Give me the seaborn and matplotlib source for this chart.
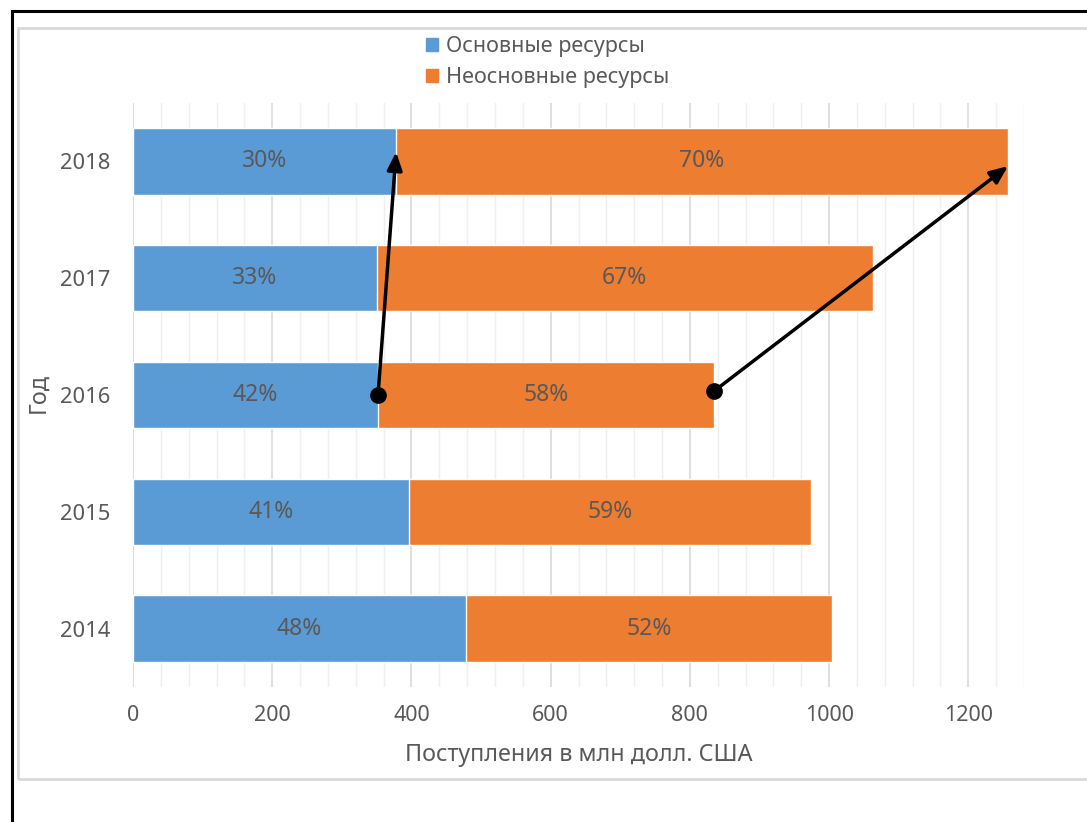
import matplotlib
matplotlib.use("Agg")
import matplotlib.pyplot as plt
from matplotlib.patches import Rectangle
from matplotlib.ticker import MultipleLocator
import seaborn as sns
import pandas as pd

years = ["2018", "2017", "2016", "2015", "2014"]
core = [378, 350, 352, 397, 478]
noncore = [879, 713, 482, 577, 526]
core_pct = ["30%", "33%", "42%", "41%", "48%"]
noncore_pct = ["70%", "67%", "58%", "59%", "52%"]
legend_labels = ["Основные ресурсы", "Неосновные ресурсы"]
x_label = "Поступления в млн долл. США"
y_label = "Год"

BLUE = "#5B9BD5"
ORANGE = "#ED7D31"
TXT = "#595959"
FS = 15.5
FS_LBL = 16.5
FS_TXT = 16.8

sns.set_theme(style="white")
plt.rcParams["font.family"] = ["Noto Sans", "DejaVu Sans"]

totals = [c + n for c, n in zip(core, noncore)]
df = pd.DataFrame({"year": years, "core": core, "total": totals})

fig = plt.figure(figsize=(10.87, 8.22), dpi=100)
W, H = 1087, 822
ax = fig.add_axes([133 / W, 1 - 687 / H, (1024 - 133) / W, (687 - 103) / H])

sns.barplot(data=df, y="year", x="total", order=years, color=ORANGE,
            width=0.57, saturation=1, ax=ax, label=legend_labels[1], zorder=3)
sns.barplot(data=df, y="year", x="core", order=years, color=BLUE,
            width=0.57, saturation=1, ax=ax, label=legend_labels[0], zorder=3)

ax.set_xlim(0, 1280)
ax.set_ylim(4.5, -0.5)
ax.xaxis.set_major_locator(MultipleLocator(200))
ax.xaxis.set_minor_locator(MultipleLocator(40))
ax.grid(axis="x", which="major", color="#D9D9D9", lw=1.2, zorder=0)
ax.grid(axis="x", which="minor", color="#EFEFEF", lw=1.0, zorder=0)
ax.grid(axis="y", visible=False)
ax.set_axisbelow(True)
for s in ax.spines.values():
    s.set_visible(False)
ax.axvline(0, color="#D9D9D9", lw=1.2, zorder=1)
ax.tick_params(axis="both", which="both", length=0, labelsize=FS, labelcolor=TXT)
ax.tick_params(axis="y", labelsize=15.8)
ax.tick_params(axis="x", pad=13)
ax.tick_params(axis="y", pad=16.5)
ax.set_xticks(range(0, 1201, 200))
ax.set_xlabel(x_label, fontsize=FS_TXT, color=TXT, labelpad=12)
ax.set_ylabel("")
fig.text(38 / W, 1 - 393 / H, y_label, rotation=90, ha="center", va="center",
         fontsize=FS_TXT, color=TXT)

for i in range(len(years)):
    ax.text(core[i] / 2, i, core_pct[i], ha="center", va="center",
            fontsize=FS_LBL, color=TXT, zorder=5)
    ax.text(core[i] + noncore[i] / 2, i, noncore_pct[i], ha="center",
            va="center", fontsize=FS_LBL, color=TXT, zorder=5)

# arrows from 2016 to 2018 bar ends
i16, i18 = years.index("2016"), years.index("2018")
arrow_kw = dict(arrowstyle="-|>,head_length=0.9,head_width=0.38", color="black",
                lw=2.5, shrinkA=0, shrinkB=0)
ax.annotate("", xy=(core[i18], i18 - 0.08), xytext=(core[i16], i16),
            arrowprops=arrow_kw, zorder=6)
ax.annotate("", xy=(totals[i18], i18 + 0.04), xytext=(totals[i16], i16 - 0.03),
            arrowprops=arrow_kw, zorder=6)
ax.plot([core[i16], totals[i16]], [i16, i16 - 0.03], "o", color="black",
        ms=11, zorder=7, clip_on=False)

handles = [Rectangle((0, 0), 1, 1, color=BLUE), Rectangle((0, 0), 1, 1, color=ORANGE)]
fig.legend(handles, legend_labels, loc="upper left",
           bbox_to_anchor=(407 / W, 1 - 17 / H), frameon=False, fontsize=FS,
           labelcolor=TXT, handlelength=0.55, handleheight=0.55,
           handletextpad=0.38, labelspacing=0.45)
if ax.get_legend() is not None:
    ax.get_legend().remove()

# frames
fig.add_artist(Rectangle((11.5 / W, -0.1), 1.2, 1 - 11.5 / H + 0.1,
                         transform=fig.transFigure, fill=False,
                         edgecolor="black", lw=2.2))
fig.add_artist(Rectangle((17.5 / W, 1 - 778.5 / H), 1.2, (778.5 - 28) / H,
                         transform=fig.transFigure, fill=False,
                         edgecolor="#D9D9D9", lw=2))

fig.savefig("out.png", dpi=100)
